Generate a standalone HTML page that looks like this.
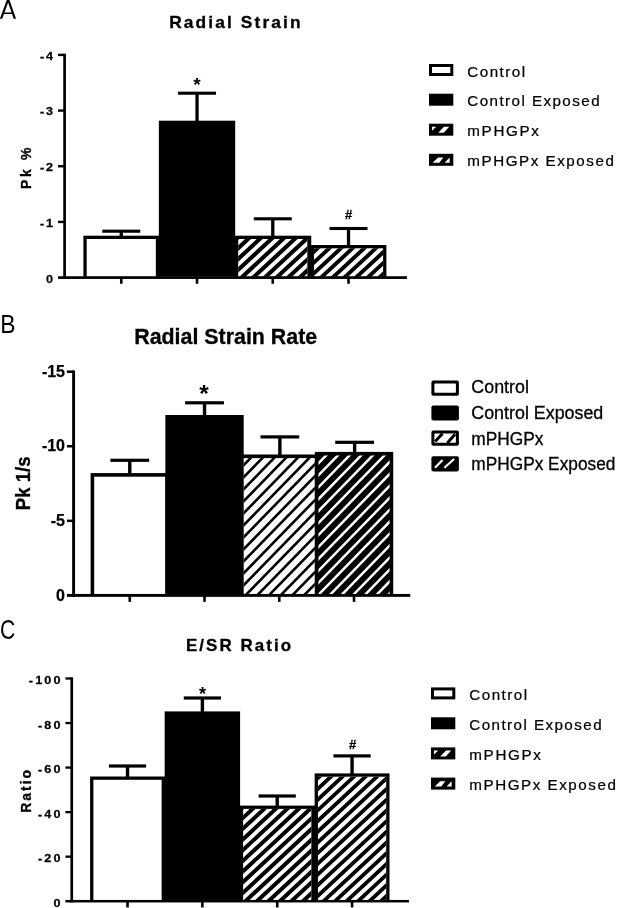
<!DOCTYPE html>
<html><head><meta charset="utf-8"><title>Figure</title>
<style>html,body{margin:0;padding:0;background:#fff;}svg{display:block;will-change:transform;filter:blur(0.35px);}text{font-family:'Liberation Sans',sans-serif;fill:#000;}</style>
</head><body>
<svg width="618" height="908" viewBox="0 0 618 908">
<rect width="618" height="908" fill="#fff"/>
<rect x="102.28" y="229.65" width="38.00" height="3.10" fill="#000" />
<rect x="119.63" y="231.20" width="3.30" height="5.50" fill="#000" />
<rect x="119.98" y="277.60" width="2.60" height="6.15" fill="#000" />
<rect x="83.40" y="235.70" width="76.35" height="41.05" fill="#000" />
<rect x="86.70" y="239.00" width="69.15" height="37.75" fill="#fff" />
<rect x="178.03" y="91.65" width="38.00" height="3.10" fill="#000" />
<rect x="195.38" y="93.20" width="3.30" height="28.50" fill="#000" />
<rect x="195.72" y="277.60" width="2.60" height="6.15" fill="#000" />
<rect x="158.85" y="120.70" width="76.35" height="156.05" fill="#000" />
<rect x="253.77" y="217.25" width="38.00" height="3.10" fill="#000" />
<rect x="271.12" y="218.80" width="3.30" height="17.90" fill="#000" />
<rect x="271.47" y="277.60" width="2.60" height="6.15" fill="#000" />
<rect x="234.90" y="235.70" width="76.35" height="41.05" fill="#000" />
<clipPath id="c1"><rect x="238.20" y="239.00" width="69.15" height="37.75"/></clipPath>
<rect x="238.20" y="239.00" width="69.15" height="37.75" fill="#fff" />
<path d="M191.50,280.75L240.69,235.00M203.15,280.75L252.33,235.00M214.80,280.75L263.99,235.00M226.45,280.75L275.63,235.00M238.10,280.75L287.28,235.00M249.75,280.75L298.93,235.00M261.40,280.75L310.59,235.00M273.05,280.75L322.24,235.00M284.70,280.75L333.88,235.00M296.35,280.75L345.53,235.00M308.00,280.75L357.18,235.00" stroke="#000" stroke-width="4.1" fill="none" clip-path="url(#c1)"/>
<rect x="329.52" y="226.95" width="38.00" height="3.10" fill="#000" />
<rect x="346.87" y="228.50" width="3.30" height="17.50" fill="#000" />
<rect x="347.22" y="277.60" width="2.60" height="6.15" fill="#000" />
<rect x="310.65" y="245.00" width="75.75" height="31.75" fill="#000" />
<clipPath id="c2"><rect x="313.95" y="248.30" width="69.15" height="28.45"/></clipPath>
<rect x="313.95" y="248.30" width="69.15" height="28.45" fill="#fff" />
<path d="M282.64,280.75L321.83,244.30M294.29,280.75L333.48,244.30M305.94,280.75L345.13,244.30M317.59,280.75L356.78,244.30M329.24,280.75L368.43,244.30M340.89,280.75L380.08,244.30M352.54,280.75L391.73,244.30M364.19,280.75L403.38,244.30M375.84,280.75L415.03,244.30" stroke="#000" stroke-width="3.9" fill="none" clip-path="url(#c2)"/>
<rect x="63.25" y="53.70" width="2.70" height="225.25" fill="#000" />
<rect x="58.00" y="276.25" width="349.00" height="2.70" fill="#000" />
<rect x="58.00" y="53.70" width="6.60" height="2.40" fill="#000" />
<text font-size="11.8" font-weight="bold" text-anchor="end" letter-spacing="1.589" transform="translate(54.7 59.8) scale(1.07 1)" stroke="#000" stroke-width="0.25">-4</text>
<rect x="58.00" y="109.38" width="6.60" height="2.40" fill="#000" />
<text font-size="11.8" font-weight="bold" text-anchor="end" letter-spacing="1.589" transform="translate(54.7 115.48) scale(1.07 1)" stroke="#000" stroke-width="0.25">-3</text>
<rect x="58.00" y="165.05" width="6.60" height="2.40" fill="#000" />
<text font-size="11.8" font-weight="bold" text-anchor="end" letter-spacing="1.589" transform="translate(54.7 171.15) scale(1.07 1)" stroke="#000" stroke-width="0.25">-2</text>
<rect x="58.00" y="220.73" width="6.60" height="2.40" fill="#000" />
<text font-size="11.8" font-weight="bold" text-anchor="end" letter-spacing="1.589" transform="translate(54.7 226.83) scale(1.07 1)" stroke="#000" stroke-width="0.25">-1</text>
<text font-size="11.8" font-weight="bold" text-anchor="end" letter-spacing="1.589" transform="translate(54.7 282.5) scale(1.07 1)" stroke="#000" stroke-width="0.25">0</text>
<path d="M-0.1,18.8 L6.9,-0.3 L9.4,-0.3 L16.0,18.8 L13.7,18.8 L8.1,2.4 L2.2,18.8 Z M3.9,12.5 L12.3,12.5 L12.3,14.0 L3.9,14.0 Z" fill="#000"/>
<text font-size="16.4" font-weight="bold" letter-spacing="1.981" transform="translate(169.2 28) scale(1.06 1)" stroke="#000" stroke-width="0.3">Radial Strain</text>
<text font-size="14.0" font-weight="bold" letter-spacing="2.7" transform="translate(31.0 189.0) scale(1.07 1) rotate(-90)" stroke="#000" stroke-width="0.3">Pk %</text>
<text font-size="19" font-weight="bold" text-anchor="middle" x="197.0" y="90.9" >*</text>
<text font-size="13" font-weight="bold" text-anchor="middle" x="348.5" y="219.2" stroke="#000" stroke-width="0.3">#</text>
<rect x="110.38" y="458.70" width="38.80" height="3.20" fill="#000" />
<rect x="128.08" y="460.30" width="3.40" height="13.80" fill="#000" />
<rect x="128.47" y="595.40" width="2.60" height="6.45" fill="#000" />
<rect x="90.60" y="473.10" width="78.35" height="121.35" fill="#000" />
<rect x="94.20" y="476.70" width="71.15" height="117.75" fill="#fff" />
<rect x="185.12" y="401.20" width="38.80" height="3.20" fill="#000" />
<rect x="202.83" y="402.80" width="3.40" height="13.20" fill="#000" />
<rect x="203.22" y="595.40" width="2.60" height="6.45" fill="#000" />
<rect x="165.35" y="415.00" width="78.35" height="179.45" fill="#000" />
<rect x="260.48" y="435.30" width="38.80" height="3.20" fill="#000" />
<rect x="278.17" y="436.90" width="3.40" height="18.60" fill="#000" />
<rect x="277.97" y="595.40" width="2.60" height="6.45" fill="#000" />
<rect x="240.10" y="454.50" width="78.35" height="139.95" fill="#000" />
<clipPath id="c3"><rect x="243.70" y="458.10" width="71.15" height="136.35"/></clipPath>
<rect x="243.70" y="458.10" width="71.15" height="136.35" fill="#fff" />
<path d="M102.06,598.45L242.80,454.10M113.76,598.45L254.50,454.10M125.46,598.45L266.20,454.10M137.16,598.45L277.90,454.10M148.86,598.45L289.60,454.10M160.56,598.45L301.30,454.10M172.26,598.45L313.00,454.10M183.96,598.45L324.70,454.10M195.66,598.45L336.40,454.10M207.36,598.45L348.10,454.10M219.06,598.45L359.80,454.10M230.76,598.45L371.50,454.10M242.46,598.45L383.20,454.10M254.16,598.45L394.90,454.10M265.86,598.45L406.60,454.10M277.56,598.45L418.30,454.10M289.26,598.45L430.00,454.10M300.96,598.45L441.70,454.10M312.66,598.45L453.40,454.10" stroke="#000" stroke-width="2.6" fill="none" clip-path="url(#c3)"/>
<rect x="335.23" y="440.70" width="38.80" height="3.20" fill="#000" />
<rect x="352.92" y="442.30" width="3.40" height="10.60" fill="#000" />
<rect x="352.72" y="595.40" width="2.60" height="6.45" fill="#000" />
<rect x="314.85" y="451.90" width="78.35" height="142.55" fill="#000" />
<clipPath id="c4"><rect x="318.45" y="455.50" width="71.15" height="138.95"/></clipPath>
<rect x="318.45" y="455.50" width="71.15" height="138.95" fill="#000" />
<path d="M175.06,598.45L318.34,451.50M186.71,598.45L329.99,451.50M198.36,598.45L341.64,451.50M210.01,598.45L353.29,451.50M221.66,598.45L364.94,451.50M233.31,598.45L376.59,451.50M244.96,598.45L388.24,451.50M256.61,598.45L399.89,451.50M268.26,598.45L411.54,451.50M279.91,598.45L423.19,451.50M291.56,598.45L434.84,451.50M303.21,598.45L446.49,451.50M314.86,598.45L458.14,451.50M326.51,598.45L469.79,451.50M338.16,598.45L481.44,451.50M349.81,598.45L493.09,451.50M361.46,598.45L504.74,451.50M373.11,598.45L516.39,451.50M384.76,598.45L528.04,451.50" stroke="#fff" stroke-width="2.5" fill="none" clip-path="url(#c4)"/>
<rect x="72.15" y="370.45" width="2.90" height="226.40" fill="#000" />
<rect x="67.00" y="593.95" width="343.30" height="2.90" fill="#000" />
<rect x="67.00" y="370.45" width="6.60" height="2.50" fill="#000" />
<text font-size="16" font-weight="bold" text-anchor="end" x="65.0" y="376.9" stroke="#000" stroke-width="0.25">-15</text>
<rect x="67.00" y="445.02" width="6.60" height="2.50" fill="#000" />
<text font-size="16" font-weight="bold" text-anchor="end" x="65.0" y="451.47" stroke="#000" stroke-width="0.25">-10</text>
<rect x="67.00" y="519.58" width="6.60" height="2.50" fill="#000" />
<text font-size="16" font-weight="bold" text-anchor="end" x="65.0" y="526.03" stroke="#000" stroke-width="0.25">-5</text>
<text font-size="16" font-weight="bold" text-anchor="end" x="65.0" y="600.6" stroke="#000" stroke-width="0.25">0</text>
<text font-size="25.5" x="0.3" y="333" textLength="15.3" lengthAdjust="spacingAndGlyphs" >B</text>
<text font-size="21.5" font-weight="bold" x="134.2" y="344.2" textLength="183" lengthAdjust="spacingAndGlyphs" stroke="#000" stroke-width="0.3">Radial Strain Rate</text>
<text font-size="19.6" font-weight="bold" x="30.0" y="510.2" textLength="53.8" lengthAdjust="spacingAndGlyphs" transform="rotate(-90 30.0 510.2)" stroke="#000" stroke-width="0.3">Pk 1/s</text>
<text font-size="24.5" font-weight="bold" text-anchor="middle" x="204.05" y="401.6" >*</text>
<rect x="108.92" y="764.40" width="37.20" height="3.20" fill="#000" />
<rect x="125.83" y="766.00" width="3.40" height="11.50" fill="#000" />
<rect x="126.22" y="901.20" width="2.60" height="6.25" fill="#000" />
<rect x="90.10" y="776.50" width="75.45" height="123.95" fill="#000" />
<rect x="93.40" y="779.80" width="68.25" height="120.65" fill="#fff" />
<rect x="183.78" y="696.40" width="37.20" height="3.20" fill="#000" />
<rect x="200.68" y="698.00" width="3.40" height="14.40" fill="#000" />
<rect x="201.07" y="901.20" width="2.60" height="6.25" fill="#000" />
<rect x="164.65" y="711.40" width="75.45" height="189.05" fill="#000" />
<rect x="258.62" y="794.40" width="37.20" height="3.20" fill="#000" />
<rect x="275.52" y="796.00" width="3.40" height="10.60" fill="#000" />
<rect x="275.92" y="901.20" width="2.60" height="6.25" fill="#000" />
<rect x="239.80" y="805.60" width="75.45" height="94.85" fill="#000" />
<clipPath id="c5"><rect x="243.10" y="808.90" width="68.25" height="91.55"/></clipPath>
<rect x="243.10" y="808.90" width="68.25" height="91.55" fill="#fff" />
<path d="M138.42,904.45L245.43,804.90M149.92,904.45L256.93,804.90M161.42,904.45L268.43,804.90M172.92,904.45L279.93,804.90M184.42,904.45L291.43,804.90M195.92,904.45L302.93,804.90M207.42,904.45L314.43,804.90M218.92,904.45L325.93,804.90M230.42,904.45L337.43,804.90M241.92,904.45L348.93,804.90M253.42,904.45L360.43,804.90M264.92,904.45L371.93,804.90M276.42,904.45L383.43,804.90M287.92,904.45L394.93,804.90M299.42,904.45L406.43,804.90M310.92,904.45L417.93,804.90" stroke="#000" stroke-width="4.0" fill="none" clip-path="url(#c5)"/>
<rect x="333.47" y="754.30" width="37.20" height="3.20" fill="#000" />
<rect x="350.37" y="755.90" width="3.40" height="18.50" fill="#000" />
<rect x="350.77" y="901.20" width="2.60" height="6.25" fill="#000" />
<rect x="314.65" y="773.40" width="74.85" height="127.05" fill="#000" />
<clipPath id="c6"><rect x="317.95" y="776.70" width="68.25" height="123.75"/></clipPath>
<rect x="317.95" y="776.70" width="68.25" height="123.75" fill="#fff" />
<path d="M182.02,904.45L323.65,772.70M193.52,904.45L335.15,772.70M205.02,904.45L346.65,772.70M216.52,904.45L358.15,772.70M228.02,904.45L369.65,772.70M239.52,904.45L381.15,772.70M251.02,904.45L392.65,772.70M262.52,904.45L404.15,772.70M274.02,904.45L415.65,772.70M285.52,904.45L427.15,772.70M297.02,904.45L438.65,772.70M308.52,904.45L450.15,772.70M320.02,904.45L461.65,772.70M331.52,904.45L473.15,772.70M343.02,904.45L484.65,772.70M354.52,904.45L496.15,772.70M366.02,904.45L507.65,772.70M377.52,904.45L519.15,772.70M389.02,904.45L530.65,772.70" stroke="#000" stroke-width="3.8" fill="none" clip-path="url(#c6)"/>
<rect x="70.40" y="677.35" width="2.70" height="225.10" fill="#000" />
<rect x="65.40" y="899.95" width="343.60" height="2.50" fill="#000" />
<rect x="65.40" y="677.35" width="6.35" height="2.30" fill="#000" />
<text font-size="11.8" font-weight="bold" text-anchor="end" letter-spacing="2.009" transform="translate(62.65 684.0) scale(1.07 1)" stroke="#000" stroke-width="0.25">-100</text>
<rect x="65.40" y="721.89" width="6.35" height="2.30" fill="#000" />
<text font-size="11.8" font-weight="bold" text-anchor="end" letter-spacing="2.009" transform="translate(62.65 728.54) scale(1.07 1)" stroke="#000" stroke-width="0.25">-80</text>
<rect x="65.40" y="766.43" width="6.35" height="2.30" fill="#000" />
<text font-size="11.8" font-weight="bold" text-anchor="end" letter-spacing="2.009" transform="translate(62.65 773.08) scale(1.07 1)" stroke="#000" stroke-width="0.25">-60</text>
<rect x="65.40" y="810.97" width="6.35" height="2.30" fill="#000" />
<text font-size="11.8" font-weight="bold" text-anchor="end" letter-spacing="2.009" transform="translate(62.65 817.62) scale(1.07 1)" stroke="#000" stroke-width="0.25">-40</text>
<rect x="65.40" y="855.51" width="6.35" height="2.30" fill="#000" />
<text font-size="11.8" font-weight="bold" text-anchor="end" letter-spacing="2.009" transform="translate(62.65 862.16) scale(1.07 1)" stroke="#000" stroke-width="0.25">-20</text>
<text font-size="11.8" font-weight="bold" text-anchor="end" letter-spacing="2.009" transform="translate(62.65 906.7) scale(1.07 1)" stroke="#000" stroke-width="0.25">0</text>
<text font-size="27.3" x="-0.1" y="638.8" textLength="15.3" lengthAdjust="spacingAndGlyphs" >C</text>
<text font-size="16.0" font-weight="bold" letter-spacing="1.934" transform="translate(186.0 650.6) scale(1.06 1)" stroke="#000" stroke-width="0.3">E/SR Ratio</text>
<text font-size="14.0" font-weight="bold" letter-spacing="2.0" transform="translate(31.1 812.8) scale(1.07 1) rotate(-90)" stroke="#000" stroke-width="0.3">Ratio</text>
<text font-size="18" font-weight="bold" text-anchor="middle" x="202.5" y="699.8" >*</text>
<text font-size="13" font-weight="bold" text-anchor="middle" x="352.5" y="749.2" stroke="#000" stroke-width="0.3">#</text>
<rect x="429.00" y="64.00" width="24.30" height="12.00" fill="#000" />
<rect x="432.00" y="67.00" width="18.30" height="6.00" fill="#fff" />
<text font-size="14.2" textLength="54.02" lengthAdjust="spacing" transform="translate(467.3 76.5) scale(1.07 1)" stroke="#000" stroke-width="0.22">Control</text>
<rect x="429.00" y="93.70" width="24.30" height="12.00" fill="#000" />
<text font-size="14.2" textLength="123.64" lengthAdjust="spacing" transform="translate(467.3 106.3) scale(1.07 1)" stroke="#000" stroke-width="0.22">Control Exposed</text>
<rect x="429.00" y="123.70" width="24.30" height="12.00" fill="#000" />
<polygon points="432.0,126.7 436.2,126.7 432.0,130.7" fill="#fff"/>
<polygon points="438.2,132.7 443.7,132.7 449.2,126.7 444.0,126.7" fill="#fff"/>
<text font-size="14.2" textLength="66.92" lengthAdjust="spacing" transform="translate(467.3 136.3) scale(1.07 1)" stroke="#000" stroke-width="0.22">mPHGPx</text>
<rect x="429.00" y="153.80" width="24.30" height="12.00" fill="#000" />
<polygon points="432.6,162.8 439.2,162.8 443.4,157.4 438.2,157.4" fill="#fff"/>
<polygon points="444.6,162.8 449.6,162.8 449.6,157.4" fill="#fff"/>
<text font-size="14.2" textLength="137.01" lengthAdjust="spacing" transform="translate(467.3 166.2) scale(1.07 1)" stroke="#000" stroke-width="0.22">mPHGPx Exposed</text>
<rect x="431.00" y="687.40" width="24.30" height="12.00" fill="#000" />
<rect x="434.00" y="690.40" width="18.30" height="6.00" fill="#fff" />
<text font-size="14.2" textLength="54.02" lengthAdjust="spacing" transform="translate(469.3 700.0) scale(1.07 1)" stroke="#000" stroke-width="0.22">Control</text>
<rect x="431.00" y="717.30" width="24.30" height="12.00" fill="#000" />
<text font-size="14.2" textLength="123.64" lengthAdjust="spacing" transform="translate(469.3 729.8) scale(1.07 1)" stroke="#000" stroke-width="0.22">Control Exposed</text>
<rect x="431.00" y="747.40" width="24.30" height="12.00" fill="#000" />
<polygon points="434.0,750.4 438.2,750.4 434.0,754.4" fill="#fff"/>
<polygon points="440.2,756.4 445.7,756.4 451.2,750.4 446.0,750.4" fill="#fff"/>
<text font-size="14.2" textLength="66.92" lengthAdjust="spacing" transform="translate(469.3 759.8) scale(1.07 1)" stroke="#000" stroke-width="0.22">mPHGPx</text>
<rect x="431.00" y="777.60" width="24.30" height="12.00" fill="#000" />
<polygon points="434.6,786.6 441.2,786.6 445.4,781.2 440.2,781.2" fill="#fff"/>
<polygon points="446.6,786.6 451.6,786.6 451.6,781.2" fill="#fff"/>
<text font-size="14.2" textLength="137.01" lengthAdjust="spacing" transform="translate(469.3 789.8) scale(1.07 1)" stroke="#000" stroke-width="0.22">mPHGPx Exposed</text>
<rect x="431.40" y="380.60" width="27.50" height="15.10" fill="#000" rx="1.8"/>
<rect x="434.40" y="383.60" width="21.50" height="9.10" fill="#fff" rx="0.6"/>
<text font-size="18" x="471.3" y="393.2" textLength="57.6" lengthAdjust="spacingAndGlyphs" stroke="#000" stroke-width="0.3">Control</text>
<rect x="431.40" y="405.40" width="27.50" height="15.10" fill="#000" rx="1.8"/>
<text font-size="18" x="471.3" y="418.5" textLength="132.0" lengthAdjust="spacingAndGlyphs" stroke="#000" stroke-width="0.3">Control Exposed</text>
<rect x="431.40" y="430.60" width="27.50" height="15.10" fill="#000" rx="1.8"/>
<rect x="434.40" y="433.60" width="21.50" height="9.10" fill="#fff" rx="0.6"/>
<path d="M435.2,441.5 L442.5,433.5 M447.3,443.0 L455.1,434.2" stroke="#000" stroke-width="2.9" fill="none"/>
<text font-size="18" x="471.3" y="444.5" textLength="72.1" lengthAdjust="spacingAndGlyphs" stroke="#000" stroke-width="0.3">mPHGPx</text>
<rect x="431.40" y="456.30" width="27.50" height="15.10" fill="#000" rx="1.8"/>
<path d="M435.0,467.7 L442.5,460.0 M444.4,467.7 L454.1,459.0" stroke="#fff" stroke-width="2.1" fill="none"/>
<text font-size="18" x="471.3" y="470.0" textLength="144.1" lengthAdjust="spacingAndGlyphs" stroke="#000" stroke-width="0.3">mPHGPx Exposed</text>
</svg>
</body></html>
